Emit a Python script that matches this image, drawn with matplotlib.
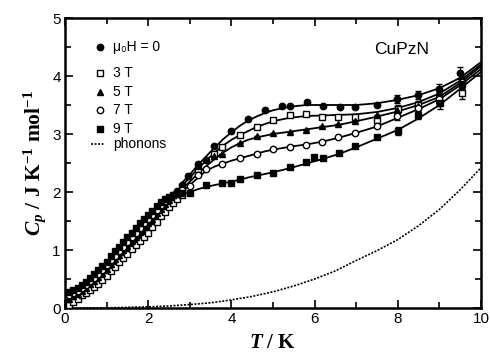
import numpy as np
import matplotlib
matplotlib.use("Agg")
import matplotlib.pyplot as plt
from matplotlib.ticker import MultipleLocator

plt.rcParams['font.family'] = ['Liberation Sans', 'DejaVu Sans']
plt.rcParams['mathtext.fontset'] = 'custom'
plt.rcParams['mathtext.rm'] = 'Liberation Serif:bold'
plt.rcParams['mathtext.it'] = 'Liberation Serif:bold:italic'
plt.rcParams['mathtext.bf'] = 'Liberation Serif:bold'

# low temperature data (dense), shared temperatures
t_low = [0.1, 0.2, 0.3, 0.4, 0.5, 0.6, 0.7, 0.8, 0.9, 1.0, 1.1, 1.2, 1.3, 1.4,
         1.5, 1.6, 1.7, 1.8, 1.9, 2.0, 2.1, 2.2, 2.3, 2.4, 2.5, 2.6, 2.7, 2.8]
cp0_low = [0.10, 0.14, 0.19, 0.25, 0.30, 0.35, 0.41, 0.47, 0.54, 0.61, 0.68, 0.76, 0.84, 0.91,
           0.99, 1.06, 1.14, 1.22, 1.30, 1.38, 1.46, 1.55, 1.64, 1.73, 1.82, 1.92, 2.02, 2.12]
cp3_low = [0.06, 0.10, 0.16, 0.22, 0.26, 0.31, 0.36, 0.42, 0.49, 0.56, 0.63, 0.71, 0.79, 0.86,
           0.93, 1.01, 1.08, 1.15, 1.23, 1.30, 1.39, 1.48, 1.58, 1.66, 1.74, 1.81, 1.88, 1.95]
cp5_low = [0.15, 0.20, 0.25, 0.30, 0.35, 0.41, 0.47, 0.53, 0.60, 0.68, 0.76, 0.84, 0.92, 1.00,
           1.07, 1.15, 1.23, 1.31, 1.39, 1.46, 1.54, 1.63, 1.71, 1.79, 1.87, 1.95, 2.02, 2.08]
cp7_low = [0.22, 0.26, 0.30, 0.35, 0.40, 0.46, 0.52, 0.59, 0.66, 0.74, 0.82, 0.90, 0.98, 1.06,
           1.14, 1.22, 1.30, 1.38, 1.46, 1.53, 1.61, 1.69, 1.77, 1.84, 1.90, 1.95, 1.99, 2.03]
cp9_low = [0.28, 0.31, 0.35, 0.40, 0.45, 0.52, 0.58, 0.65, 0.72, 0.80, 0.89, 0.98, 1.06, 1.14,
           1.22, 1.30, 1.38, 1.46, 1.53, 1.60, 1.68, 1.76, 1.83, 1.88, 1.92, 1.95, 1.97, 1.98]

# higher temperature data
t0_hi = [2.96, 3.19, 3.38, 3.58, 3.99, 4.39, 4.80, 5.21, 5.41, 5.81, 6.21, 6.60, 6.97, 7.49, 7.99, 8.49, 9.00, 9.50]
cp0_hi = [2.28, 2.48, 2.56, 2.79, 3.05, 3.26, 3.41, 3.49, 3.49, 3.55, 3.49, 3.47, 3.47, 3.50, 3.61, 3.67, 3.77, 4.05]
t3_hi = [3.19, 3.58, 3.78, 4.21, 4.61, 5.01, 5.41, 5.79, 6.18, 6.57, 6.97, 7.49, 8.00, 8.49, 9.00, 9.54]
cp3_hi = [2.40, 2.65, 2.78, 2.98, 3.12, 3.25, 3.33, 3.34, 3.30, 3.30, 3.30, 3.24, 3.43, 3.50, 3.62, 3.70]
t5_hi = [3.19, 3.58, 3.78, 4.21, 4.61, 5.01, 5.41, 5.79, 6.18, 6.57, 6.97, 7.49, 7.99, 8.49, 9.00, 9.54]
cp5_hi = [2.45, 2.62, 2.66, 2.84, 2.97, 3.02, 3.04, 3.07, 3.13, 3.17, 3.23, 3.33, 3.41, 3.48, 3.59, 3.90]
t7_hi = [3.00, 3.19, 3.38, 3.78, 4.21, 4.61, 5.01, 5.41, 5.79, 6.18, 6.57, 6.97, 7.49, 7.99, 8.49, 9.00, 9.54]
cp7_hi = [2.10, 2.30, 2.40, 2.49, 2.58, 2.66, 2.74, 2.78, 2.81, 2.86, 2.95, 3.02, 3.13, 3.31, 3.44, 3.60, 3.90]
t9_hi = [3.00, 3.38, 3.78, 3.99, 4.21, 4.61, 5.01, 5.41, 5.79, 5.99, 6.21, 6.59, 6.97, 7.49, 8.00, 8.49, 9.01, 9.54]
cp9_hi = [1.99, 2.12, 2.16, 2.16, 2.22, 2.29, 2.33, 2.43, 2.52, 2.61, 2.58, 2.67, 2.80, 2.95, 3.05, 3.33, 3.53, 3.87]

# fitted curves
t_fit = [2.8, 3.0, 3.2, 3.4, 3.6, 3.8, 4.0, 4.2, 4.4, 4.6, 4.8, 5.0, 5.4, 5.8, 6.2, 6.6, 7.0, 7.5, 8.0, 8.5, 9.0, 9.5, 10.0]
fit0 = [2.15, 2.30, 2.47, 2.62, 2.77, 2.91, 3.03, 3.14, 3.23, 3.30, 3.36, 3.41, 3.47, 3.50, 3.50, 3.50, 3.50, 3.53, 3.59, 3.67, 3.79, 3.97, 4.24]
fit3 = [2.10, 2.25, 2.40, 2.55, 2.68, 2.80, 2.90, 2.98, 3.05, 3.12, 3.17, 3.22, 3.28, 3.31, 3.32, 3.33, 3.34, 3.38, 3.45, 3.55, 3.70, 3.92, 4.20]
fit5 = [2.05, 2.18, 2.32, 2.45, 2.57, 2.68, 2.77, 2.84, 2.90, 2.94, 2.97, 3.00, 3.04, 3.08, 3.12, 3.16, 3.22, 3.30, 3.39, 3.50, 3.64, 3.88, 4.17]
fit7 = [2.00, 2.12, 2.25, 2.37, 2.44, 2.49, 2.54, 2.58, 2.62, 2.66, 2.70, 2.73, 2.78, 2.82, 2.87, 2.94, 3.02, 3.13, 3.28, 3.43, 3.60, 3.84, 4.12]
fit9 = [1.95, 2.00, 2.05, 2.09, 2.12, 2.15, 2.18, 2.21, 2.25, 2.28, 2.31, 2.34, 2.41, 2.49, 2.57, 2.66, 2.77, 2.92, 3.07, 3.27, 3.50, 3.78, 4.07]

# phonon contribution
t_ph = [0.0, 1.0, 2.0, 2.5, 3.0, 3.5, 4.0, 4.5, 5.0, 5.5, 6.0, 6.5, 7.0, 7.5, 8.0, 8.5, 9.0, 9.5, 10.0]
cp_ph = [0.0, 0.003, 0.02, 0.035, 0.06, 0.09, 0.14, 0.2, 0.28, 0.38, 0.5, 0.64, 0.82, 0.99, 1.18, 1.42, 1.70, 2.04, 2.42]

fig = plt.figure(figsize=(4.9, 3.6), dpi=100)
ax = fig.add_axes([0.1327, 0.1444, 0.849, 0.8056])

ms = 4.6
series = [
    (cp0_low, t0_hi, cp0_hi, dict(marker='o', mfc='black', mec='black')),
    (cp3_low, t3_hi, cp3_hi, dict(marker='s', mfc='white', mec='black')),
    (cp5_low, t5_hi, cp5_hi, dict(marker='^', mfc='black', mec='black')),
    (cp7_low, t7_hi, cp7_hi, dict(marker='o', mfc='white', mec='black')),
    (cp9_low, t9_hi, cp9_hi, dict(marker='s', mfc='black', mec='black')),
]
for cl, th, ch, st in series:
    tt = list(t_low) + list(th)
    cc = list(cl) + list(ch)
    err = [0.1 if t >= 8.9 else (0.07 if t >= 7.9 else 0.0) for t in tt]
    ax.errorbar(tt, cc, yerr=err, ls='none', ms=ms, mew=1.0, ecolor='black',
                elinewidth=0.9, capsize=2.5, capthick=0.9, zorder=3, **st)

for f in [fit0, fit3, fit5, fit7, fit9]:
    ax.plot(t_fit, f, color='black', lw=1.3, zorder=2)

ax.plot(t_ph, cp_ph, color='black', lw=1.2, ls=(0, (1.2, 0.9)), zorder=2)

ax.set_xlim(0, 10)
ax.set_ylim(0, 5)
ax.xaxis.set_major_locator(MultipleLocator(2))
ax.xaxis.set_minor_locator(MultipleLocator(1))
ax.yaxis.set_major_locator(MultipleLocator(1))
ax.yaxis.set_minor_locator(MultipleLocator(0.5))
ax.tick_params(which='both', direction='in', top=True, right=True, width=1.2)
ax.tick_params(which='major', length=6, labelsize=11, pad=3)
ax.tick_params(which='minor', length=4)
for sp in ax.spines.values():
    sp.set_linewidth(1.8)

ax.set_xlabel(r'$T$ / K', fontsize=15, family='Liberation Serif', weight='bold', labelpad=5)
ax.set_ylabel(r'$C_p$ / J K$^{-1}$ mol$^{-1}$', fontsize=15.5, family='Liberation Serif',
              weight='bold', labelpad=3)

ax.text(8.75, 4.45, 'CuPzN', ha='right', va='center', fontsize=12.5)

# legend drawn by hand
leg_y = [4.50, 4.05, 3.73, 3.42, 3.09]
leg_txt = ['μ₀H = 0', '3 T', '5 T', '7 T', '9 T']
for (cl, th, ch, st), yy, lab in zip(series, leg_y, leg_txt):
    ax.plot([0.84], [yy], ls='none', ms=ms, mew=1.0, **st)
    ax.text(1.15, yy, lab, fontsize=10, va='center', ha='left')
ax.plot([0.63, 0.94], [2.82, 2.82], color='black', lw=1.2, ls=(0, (1.2, 0.9)))
ax.text(1.15, 2.82, 'phonons', fontsize=10, va='center', ha='left')

fig.savefig('out.png', dpi=100)
